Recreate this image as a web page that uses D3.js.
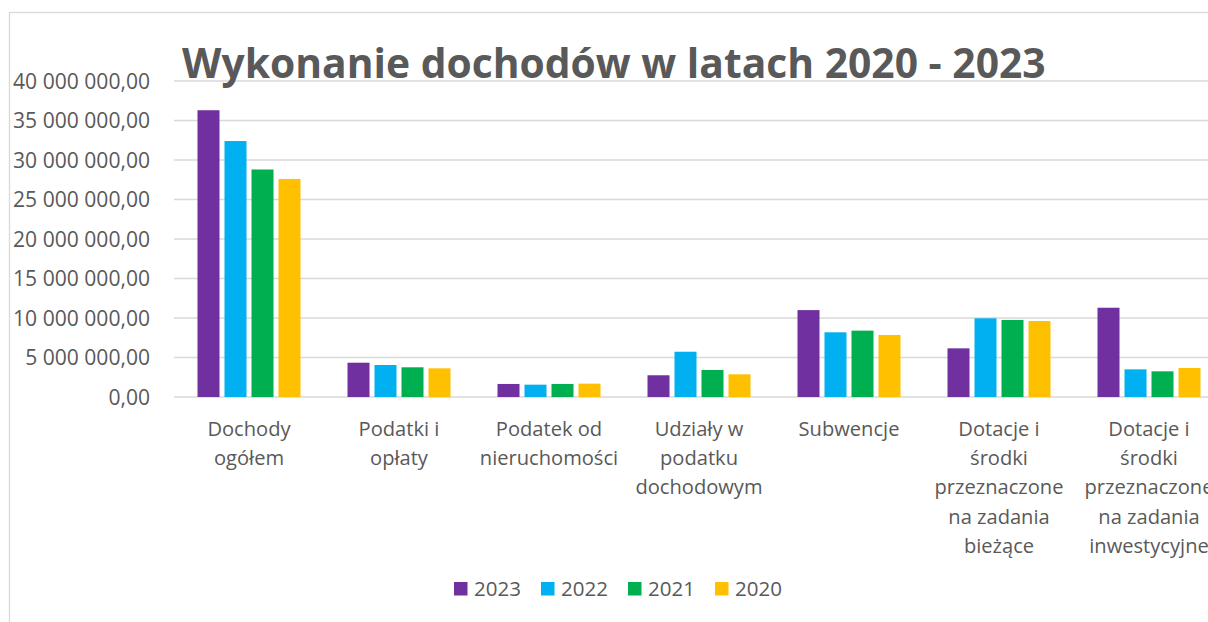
<!DOCTYPE html>
<html>
<head>
<meta charset="utf-8">
<script src="https://cdn.jsdelivr.net/npm/d3@7"></script>
<style>
  html, body { margin: 0; padding: 0; background: #fff; overflow: hidden; }
  svg { display: block; font-family: "Open Sans", "DejaVu Sans", sans-serif; }
</style>
</head>
<body>
<svg id="chart" width="1208" height="622"></svg>
<script>
const title = "Wykonanie dochodów w latach 2020 - 2023";
const categories = [
  "Dochody ogółem",
  "Podatki i opłaty",
  "Podatek od nieruchomości",
  "Udziały w podatku dochodowym",
  "Subwencje",
  "Dotacje i środki przeznaczone na zadania bieżące",
  "Dotacje i środki przeznaczone na zadania inwestycyjne"
];
const categoryLines = [
  ["Dochody", "ogółem"],
  ["Podatki i", "opłaty"],
  ["Podatek od", "nieruchomości"],
  ["Udziały w", "podatku", "dochodowym"],
  ["Subwencje"],
  ["Dotacje i", "środki", "przeznaczone", "na zadania", "bieżące"],
  ["Dotacje i", "środki", "przeznaczone", "na zadania", "inwestycyjne"]
];
const seriesNames = ["2023", "2022", "2021", "2020"];
const values2023 = [36300000, 4340000, 1650000, 2750000, 11000000, 6160000, 11300000];
const values2022 = [32400000, 4050000, 1560000, 5730000, 8190000, 9960000, 3500000];
const values2021 = [28800000, 3760000, 1650000, 3420000, 8400000, 9750000, 3250000];
const values2020 = [27600000, 3630000, 1690000, 2870000, 7850000, 9620000, 3670000];
const seriesColors = ["#7030A0", "#00B0F0", "#00B050", "#FFC000"];
const yTicks = [0, 5000000, 10000000, 15000000, 20000000, 25000000, 30000000, 35000000, 40000000];

const seriesValues = [values2023, values2022, values2021, values2020];
const textColor = "#595959";
const gridColor = "#d9d9d9";

const svg = d3.select("#chart");

// chart frame
svg.append("rect")
  .attr("x", 9.5).attr("y", 12.5)
  .attr("width", 1300).attr("height", 700)
  .attr("fill", "none").attr("stroke", gridColor).attr("stroke-width", 1.3);

const plotLeft = 174, plotRight = 1224, yBottom = 397, yTop = 81;

const x0 = d3.scaleBand().domain(categories).range([plotLeft, plotRight]).padding(0);
const groupW = 103;
const x1 = d3.scaleBand().domain(seriesNames).range([0, groupW]).paddingInner(0.185).paddingOuter(0);
const y = d3.scaleLinear().domain([0, 40000000]).range([yBottom, yTop]);

const loc = d3.formatLocale({decimal: ",", thousands: " ", grouping: [3], currency: ["", ""]});
const fmt = loc.format(",.2f");

function fitFont(sel, sample, target, start) {
  const t = svg.append("text").attr("font-size", start).attr("font-family", sel.font).attr("font-weight", sel.weight || "normal").text(sample);
  const w = t.node().getComputedTextLength();
  t.remove();
  return start * target / w;
}

// gridlines
svg.append("g").selectAll("line").data(yTicks).join("line")
  .attr("x1", plotLeft).attr("x2", 1208)
  .attr("y1", d => y(d)).attr("y2", d => y(d))
  .attr("stroke", gridColor).attr("stroke-width", 1.4);

// y axis labels
const tickFs = fitFont({font: "Open Sans"}, "40 000 000,00", 137, 18);
const yAxis = d3.axisLeft(y).tickValues(yTicks).tickFormat(fmt).tickSize(0).tickPadding(0);
const gy = svg.append("g").attr("transform", "translate(150,0)").call(yAxis);
gy.select(".domain").remove();
gy.selectAll("text").attr("fill", textColor).attr("font-size", tickFs)
  .attr("font-family", "Open Sans").attr("dy", "0.35em");

// bars
const groups = svg.append("g").selectAll("g").data(categories).join("g")
  .attr("transform", d => `translate(${x0(d) + (x0.bandwidth() - groupW) / 2},0)`);
groups.selectAll("rect")
  .data((d, i) => seriesNames.map((s, j) => ({s, v: seriesValues[j][i], c: seriesColors[j]})))
  .join("rect")
  .attr("x", d => x1(d.s))
  .attr("width", x1.bandwidth())
  .attr("y", d => y(d.v))
  .attr("height", d => y(0) - y(d.v))
  .attr("fill", d => d.c);

// category labels
const catFs = fitFont({font: "Open Sans"}, "przeznaczone", 129, 18);
const catG = svg.append("g");
categories.forEach((c, i) => {
  const t = catG.append("text")
    .attr("x", x0(c) + x0.bandwidth() / 2)
    .attr("text-anchor", "middle")
    .attr("fill", textColor)
    .attr("font-size", catFs);
  categoryLines[i].forEach((line, k) => {
    t.append("tspan").attr("x", x0(c) + x0.bandwidth() / 2).attr("y", 436 + k * 29.2).text(line);
  });
});

// title
const titleFs = fitFont({font: "Open Sans", weight: "bold"}, title, 864, 40);
svg.append("text")
  .attr("x", 182).attr("y", 78)
  .attr("font-weight", "bold")
  .attr("font-size", titleFs)
  .attr("fill", textColor)
  .text(title);

// legend
const legFs = fitFont({font: "Open Sans"}, "2023", 47, 18);
const leg = svg.append("g").selectAll("g").data(seriesNames).join("g")
  .attr("transform", (d, i) => `translate(${454 + i * 87},0)`);
leg.append("rect").attr("x", 0).attr("y", 582).attr("width", 13.5).attr("height", 13.5)
  .attr("fill", (d, i) => seriesColors[i]);
leg.append("text").attr("x", 20).attr("y", 596).attr("font-size", legFs)
  .attr("fill", textColor).text(d => d);
</script>
</body>
</html>
